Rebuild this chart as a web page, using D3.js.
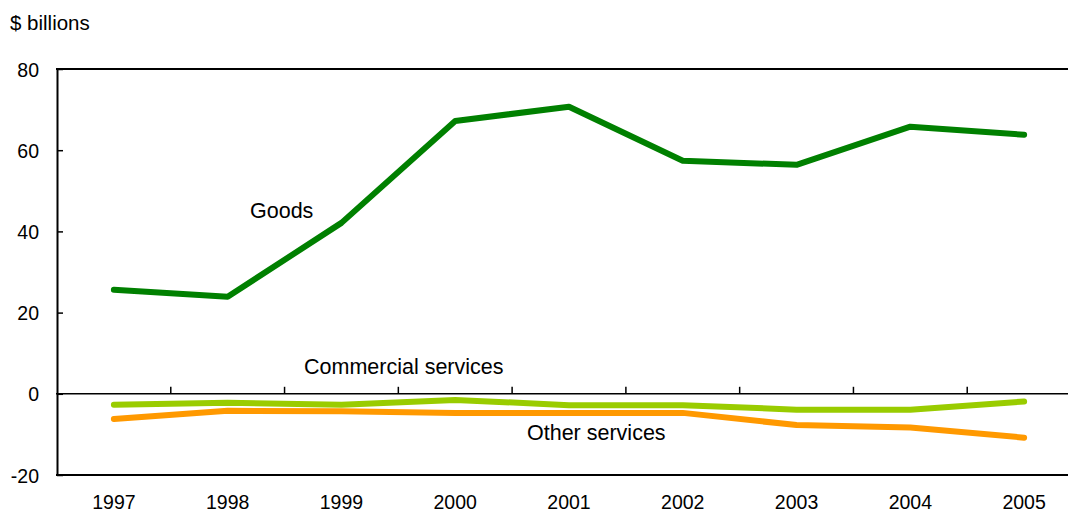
<!DOCTYPE html>
<html>
<head>
<meta charset="utf-8">
<script src="https://cdn.jsdelivr.net/npm/d3@7"></script>
<style>
  body { margin: 0; background: #fff; }
  svg text { font-family: "Liberation Sans", Arial, Helvetica, sans-serif; fill: #000; }
</style>
</head>
<body>
<div class="chart"></div>
<script>
// data ($ billions)
const years = ['1997', '1998', '1999', '2000', '2001', '2002', '2003', '2004', '2005']
const goods = [25.6, 23.9, 42.1, 67.2, 70.7, 57.4, 56.4, 65.8, 63.8]
const commercial = [-2.7, -2.2, -2.7, -1.5, -2.8, -2.8, -3.9, -3.9, -1.9]
const other = [-6.2, -4.2, -4.3, -4.7, -4.7, -4.7, -7.7, -8.3, -10.8]
const yTicks = [-20, 0, 20, 40, 60, 80]

const width = 1068, height = 512

const svg = d3.select('.chart')
  .append('svg')
  .attr('width', width)
  .attr('height', height)

// x: one band per year, runs past the right edge like the original
const x = d3.scaleBand()
  .domain(years)
  .range([57, 1081])

const y = d3.scaleLinear()
  .domain([-20, 80])
  .range([475, 69])

const cx = d => x(d) + x.bandwidth() / 2

// unit label
svg.append('text')
  .attr('x', 10)
  .attr('y', 30)
  .style('font-size', '20.5px')
  .text('$ billions')

// y axis, ticks pointing inward
const yAxis = d3.axisLeft(y)
  .tickValues(yTicks)
  .tickFormat(d => String(d))
  .tickSizeInner(-6)
  .tickSizeOuter(0)
  .tickPadding(18)

const yAxisGroup = svg.append('g')
  .attr('transform', 'translate(57,0)')
  .call(yAxis)
yAxisGroup.select('.domain').attr('stroke-width', 2)
yAxisGroup.selectAll('.tick line').attr('stroke-width', 1.5)
yAxisGroup.selectAll('.tick text')
  .style('font-size', '19.5px')
  .attr('dy', '0.36em')

// top, bottom and zero lines
svg.append('g')
  .selectAll('line')
  .data([80, -20, 0])
  .join('line')
  .attr('x1', 56)
  .attr('x2', width)
  .attr('y1', d => y(d))
  .attr('y2', d => y(d))
  .attr('stroke', '#000')
  .attr('stroke-width', d => d === 0 ? 1.5 : 2)

// category ticks on the zero line, between years
svg.append('g')
  .selectAll('line')
  .data(years.slice(1))
  .join('line')
  .attr('x1', d => x(d))
  .attr('x2', d => x(d))
  .attr('y1', y(0))
  .attr('y2', y(0) - 7)
  .attr('stroke', '#000')
  .attr('stroke-width', 1.5)

// year labels
svg.append('g')
  .selectAll('text')
  .data(years)
  .join('text')
  .attr('x', d => cx(d))
  .attr('y', 509)
  .style('font-size', '19.5px')
  .style('text-anchor', 'middle')
  .text(d => d)

// lines
const series = [
  { name: 'Goods', values: goods, color: '#008000' },
  { name: 'Commercial services', values: commercial, color: '#99cc00' },
  { name: 'Other services', values: other, color: '#ff9900' }
]

const line = d3.line()
  .x((d, i) => cx(years[i]))
  .y(d => y(d))

svg.append('g')
  .selectAll('path')
  .data([series[2], series[1], series[0]])
  .join('path')
  .attr('d', d => line(d.values))
  .attr('fill', 'none')
  .attr('stroke', d => d.color)
  .attr('stroke-width', 6)
  .attr('stroke-linejoin', 'round')
  .attr('stroke-linecap', 'round')

// series labels
const labels = [
  { text: 'Goods', x: 250, v: 43.3 },
  { text: 'Commercial services', x: 304, v: 4.9 },
  { text: 'Other services', x: 527, v: -11.4 }
]
svg.append('g')
  .selectAll('text')
  .data(labels)
  .join('text')
  .attr('x', d => d.x)
  .attr('y', d => y(d.v))
  .style('font-size', '21.5px')
  .text(d => d.text)
</script>
</body>
</html>
